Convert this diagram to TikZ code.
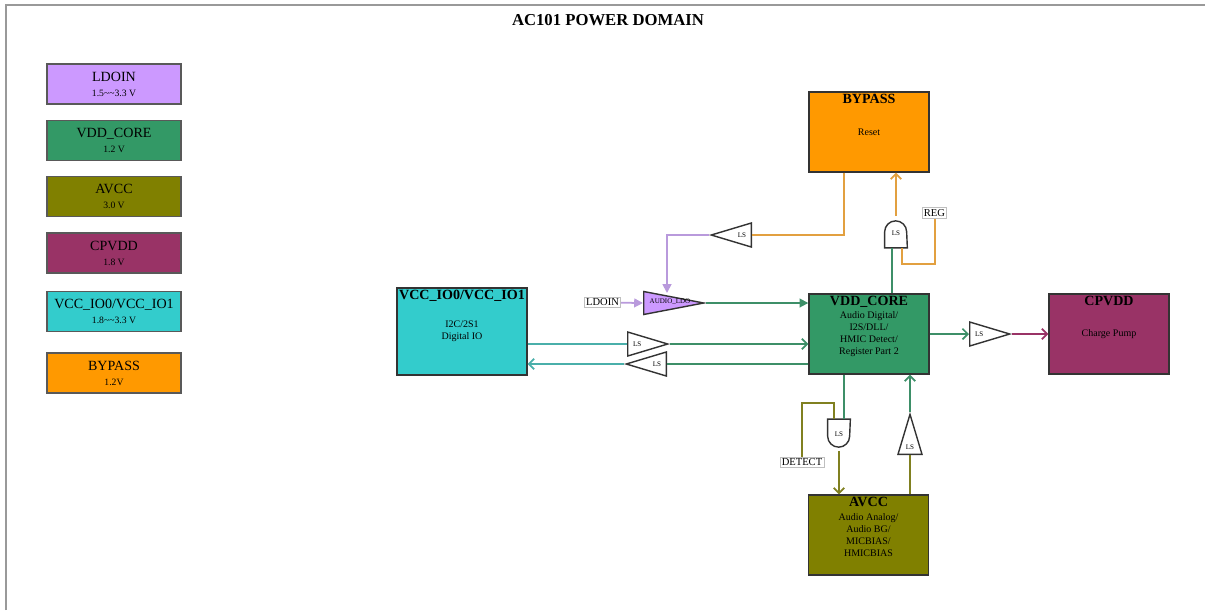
\documentclass[tikz,border=0pt]{standalone}
\usepackage{fontspec}
\setmainfont{Liberation Serif}
\usetikzlibrary{shapes.geometric,arrows.meta,calc}

\definecolor{cLdo}{HTML}{CC99FF}
\definecolor{cCore}{HTML}{339966}
\definecolor{cAvcc}{HTML}{808000}
\definecolor{cCp}{HTML}{993366}
\definecolor{cIo}{HTML}{33CCCC}
\definecolor{cByp}{HTML}{FF9900}
\definecolor{wOrange}{HTML}{E2A040}
\definecolor{wPurple}{HTML}{B99ADC}
\definecolor{wGreen}{HTML}{3D8F68}
\definecolor{wTeal}{HTML}{4AAFAA}
\definecolor{wOlive}{HTML}{808020}
\definecolor{wMaroon}{HTML}{993366}

\begin{document}
\begin{tikzpicture}[x=0.02cm, y=-0.02cm,
  legend/.style={draw=black!65, line width=0.6pt, minimum width=2.68cm, minimum height=0.8cm, align=center, inner sep=0pt, font=\fontsize{5.5}{8.5}\selectfont},
  block/.style={draw=black!80, line width=0.8pt, minimum width=2.4cm, minimum height=1.6cm, align=center, inner sep=0pt, font=\fontsize{5.7}{6.8}\selectfont},
  btitle/.style={anchor=north, inner sep=0pt, yshift=-1.5pt, font=\bfseries\fontsize{8}{9}\selectfont},
  lsbuf/.style={isosceles triangle, isosceles triangle stretches, draw=black!80, line width=0.8pt, fill=white, inner sep=0pt, minimum width=0.48cm, minimum height=0.8cm, anchor=lower side, font=\fontsize{4}{4}\selectfont},
  gatebox/.style={minimum width=0.44cm, minimum height=0.58cm, inner sep=0pt, font=\fontsize{4}{4}\selectfont},
  gateline/.style={draw=black!80, line width=0.8pt, fill=white},
  tag/.style={draw=black!25, line width=0.4pt, fill=white, inner sep=1pt, font=\fontsize{6}{7}\selectfont},
  wire/.style={line width=1pt},
  barb/.style={-{Straight Barb[length=3pt,width=6pt]}},
  tip/.style={-{Triangle[length=5pt,width=5pt]}}
]
  \useasboundingbox (0,0) rectangle (1205,610);
  \draw [black!40, line width=0.8pt] (6,610) -- (6,5) -- (1205,5);

  \node [font=\bfseries\fontsize{9.5}{11}\selectfont] (title) at (608,20) {AC101 POWER DOMAIN};

  % legend
  \node [legend, fill=cLdo] (lgLdo) at (114,84) {{\fontsize{8}{8}\selectfont LDOIN}\\1.5\textasciitilde\textasciitilde3.3 V};
  \node [legend, fill=cCore] (lgCore) at (114,140.5) {{\fontsize{8}{8}\selectfont VDD\_CORE}\\1.2 V};
  \node [legend, fill=cAvcc] (lgAvcc) at (114,196.5) {{\fontsize{8}{8}\selectfont AVCC}\\3.0 V};
  \node [legend, fill=cCp] (lgCp) at (114,253) {{\fontsize{8}{8}\selectfont CPVDD}\\1.8 V};
  \node [legend, fill=cIo] (lgIo) at (114,311.5) {{\fontsize{8}{8}\selectfont VCC\_IO0/VCC\_IO1}\\1.8\textasciitilde\textasciitilde3.3 V};
  \node [legend, fill=cByp] (lgByp) at (114,373) {{\fontsize{8}{8}\selectfont BYPASS}\\1.2V};

  % blocks
  \node [block, fill=cByp] (bypass) at (869,132) {Reset};
  \node [btitle] at (bypass.north) {BYPASS};
  \node [block, fill=cIo, minimum width=2.6cm, minimum height=1.74cm] (vccio) at (462,331.5) {I2C/2S1\\Digital IO};
  \node [btitle] at (vccio.north) {VCC\_IO0/VCC\_IO1};
  \node [block, fill=cCore] (core) at (869,334) {Audio Digital/\\I2S/DLL/\\HMIC Detect/\\Register Part 2};
  \node [btitle] at (core.north) {VDD\_CORE};
  \node [block, fill=cCp] (cpvdd) at (1109,334) {Charge Pump};
  \node [btitle] at (cpvdd.north) {CPVDD};
  \node [block, fill=cAvcc] (avcc) at (868.5,535) {Audio Analog/\\Audio BG/\\MICBIAS/\\HMICBIAS};
  \node [btitle] at (avcc.north) {AVCC};

  % level shifters
  \node [lsbuf, shape border rotate=180] (ls1) at (752,235) {LS};
  \node [lsbuf, fill=cLdo, minimum width=0.46cm, minimum height=1.2cm] (ldo) at (643,303) {};
  \node [font=\fontsize{4}{4}\selectfont] (ldoText) at ($(ldo.lower side)+(27,-1)$) {AUDIO\_LDO};
  \node [lsbuf] (ls2) at (627,344) {LS};
  \node [lsbuf, shape border rotate=180] (ls3) at (667,364) {LS};
  \node [lsbuf] (ls4) at (969,334) {LS};
  \node [lsbuf, shape border rotate=90] (ls5) at (910,455) {LS};

  \node [gatebox] (andt) at (896,233) {};
  \draw [gateline] (andt.south west) -- ++(0,-16) arc[start angle=180, end angle=360, radius=11] -- (andt.south east) -- cycle;
  \node [gatebox] at (andt) {LS};
  \node [gatebox] (andb) at (839,434) {};
  \draw [gateline] (andb.north west) -- ++(0,17) arc[start angle=180, end angle=0, radius=11] -- (andb.north east) -- cycle;
  \node [gatebox] at (andb) {LS};

  \node [tag] (ldoin) at (602.5,302.5) {LDOIN};
  \node [tag] (reg) at (934.5,213) {REG};
  \node [tag] (detect) at (802,462.5) {DETECT};

  \coordinate (andtA) at ($(andt.south)+(-4,0)$);
  \coordinate (andtB) at ($(andt.south)+(6,0)$);
  \coordinate (regBend) at ($(andt.south)+(39,16)$);
  \coordinate (andbA) at ($(andb.north)+(-5,0)$);
  \coordinate (andbB) at ($(andb.north)+(5,0)$);
  \coordinate (detBend) at ($(andb.north)+(-37,-16)$);

  % wires
  \draw [wire, wOrange] ($(bypass.south west)+(36,0)$) |- (ls1.lower side);
  \draw [wire, wPurple, tip] (ls1.apex) -| ($(ldo.lower side)+(24,-10)$);
  \draw [wire, wPurple, tip] (ldoin) -- (ldo.lower side);
  \draw [wire, wGreen, tip] (ldo.apex) -- (ldo.apex -| core.west);
  \draw [wire, wTeal] (ls2.lower side -| vccio.east) -- (ls2.lower side);
  \draw [wire, wGreen, barb] (ls2.apex) -- (ls2.apex -| core.west);
  \draw [wire, wGreen] (ls3.lower side -| core.west) -- (ls3.lower side);
  \draw [wire, wTeal, barb] (ls3.apex) -- (ls3.apex -| vccio.east);
  \draw [wire, wGreen, barb] (core.east) -- (ls4.lower side);
  \draw [wire, wMaroon, barb] (ls4.apex) -- (ls4.apex -| cpvdd.west);
  \draw [wire, wOrange, barb] (andt.north) ++(0,-2) -- (andt.north |- bypass.south);
  \draw [wire, wGreen] (andtA) -- (andtA |- core.north);
  \draw [wire, wOrange] (andtB) |- (regBend) -- (regBend |- reg.south);
  \draw [wire, wGreen] (andbB) -- (andbB |- core.south);
  \draw [wire, wOlive] (andbA) |- (detBend) -- (detBend |- detect.north);
  \draw [wire, wOlive, barb] (andb.south) ++(0,2) -- (andb.south |- avcc.north);
  \draw [wire, wOlive] (ls5.lower side |- avcc.north) -- (ls5.lower side);
  \draw [wire, wGreen, barb] (ls5.apex) -- (ls5.apex |- core.south);
\end{tikzpicture}
\end{document}
